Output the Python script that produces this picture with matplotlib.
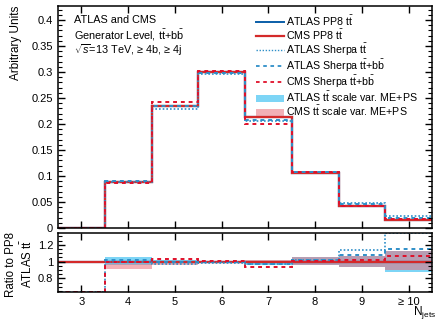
import numpy as np
import matplotlib
matplotlib.use('Agg')
from matplotlib import pyplot as plt
from matplotlib.ticker import MultipleLocator, FixedLocator
from matplotlib.lines import Line2D
from matplotlib.patches import Patch

plt.rcParams['font.family'] = ['Liberation Sans', 'DejaVu Sans']
plt.rcParams['mathtext.fontset'] = 'custom'
plt.rcParams['mathtext.rm'] = 'Liberation Sans'
plt.rcParams['mathtext.it'] = 'Liberation Sans:italic'

# bins in N_jets (3 ... >=10)
edges = np.arange(2.5, 11.0, 1.0)
tick_labels = ['3', '4', '5', '6', '7', '8', '9', '\u2265 10']

# ATLAS PP8 ttbar, normalised
atlas_pp8 = [0.0, 0.088, 0.2355, 0.301, 0.213, 0.106, 0.042, 0.0162]

# ratios to ATLAS PP8
cms_pp8_r = [1.0, 1.0, 1.0, 1.0, 1.0, 1.0, 1.0, 1.0]
atlas_sh_tt_r = [0.0, 1.0, 0.976, 0.985, 0.97, 1.02, 1.139, 1.40]
atlas_sh_ttbb_r = [0.0, 1.02, 1.0, 0.99, 0.976, 1.024, 1.08, 1.147]
cms_sh_ttbb_r = [0.0, 0.99, 1.028, 1.005, 0.94, 1.01, 1.02, 1.067]

# scale variation bands (ratio lo / hi)
atlas_band_lo = [1.0, 0.965, 0.98, 0.99, 0.96, 0.955, 0.94, 0.876]
atlas_band_hi = [1.0, 1.05, 1.02, 1.01, 0.99, 1.06, 1.067, 1.12]
cms_band_lo = [1.0, 0.91, 0.965, 0.99, 0.99, 0.964, 0.94, 0.90]
cms_band_hi = [1.0, 0.97, 1.0, 1.01, 1.025, 1.06, 1.067, 1.12]

c_atlas = '#0a5ea8'
c_cms = '#d42a2a'
c_atlas_sh = '#2f8fc8'
c_cms_sh = '#e0102a'
c_atlas_band = '#7dd5f6'
c_cms_band = '#e8707a'

pp8 = np.array(atlas_pp8)
rlo, rhi = 0.64, 1.345

fig = plt.figure(figsize=(4.37, 3.22), dpi=100)
ax = fig.add_axes([58 / 437, 94 / 322, 374 / 437, 222 / 322])
rax = fig.add_axes([58 / 437, 30 / 322, 374 / 437, 59.5 / 322])

# main panel
ax.stairs(pp8, edges, color=c_atlas, lw=1.6, baseline=None)
ax.stairs(np.array(cms_pp8_r) * pp8, edges, color=c_cms, lw=1.6, baseline=None)
ax.stairs(np.array(atlas_sh_tt_r) * pp8, edges, color=c_atlas_sh, lw=1.2,
          ls=(0, (1, 1.2)), baseline=None)
ax.stairs(np.array(atlas_sh_ttbb_r) * pp8, edges, color=c_atlas_sh, lw=1.4,
          ls=(0, (2, 2)), baseline=None)
ax.stairs(np.array(cms_sh_ttbb_r) * pp8, edges, color=c_cms_sh, lw=1.4,
          ls=(0, (2, 2)), baseline=None)

# ratio panel, values outside the range are drawn on the frame
def clip(v):
    return np.clip(np.asarray(v, dtype=float), rlo + 0.004, rhi - 0.004)

rax.stairs(atlas_band_hi, edges, baseline=atlas_band_lo, fill=True,
           color=c_atlas_band, lw=0)
rax.stairs(cms_band_hi, edges, baseline=cms_band_lo, fill=True,
           color=c_cms_band, alpha=0.55, lw=0)
rax.stairs(np.ones(len(pp8)), edges, color=c_atlas, lw=1.6, baseline=None)
rax.stairs(clip(cms_pp8_r), edges, color=c_cms, lw=1.6, baseline=None)
rax.stairs(clip(atlas_sh_tt_r), edges, color=c_atlas_sh, lw=1.2,
           ls=(0, (1, 1.2)), baseline=None)
rax.stairs(clip(atlas_sh_ttbb_r), edges, color=c_atlas_sh, lw=1.4,
           ls=(0, (2, 2)), baseline=None)
rax.stairs(clip(cms_sh_ttbb_r), edges, color=c_cms_sh, lw=1.4,
           ls=(0, (2, 2)), baseline=None)

for a in (ax, rax):
    a.set_xlim(2.5, 10.5)
    a.xaxis.set_major_locator(FixedLocator(np.arange(3, 11)))
    a.tick_params(direction='in', top=True, right=True, labelsize=8,
                  length=5, width=1)
    a.tick_params(which='minor', direction='in', top=True, right=True,
                  length=3, width=0.8)
    for sp in a.spines.values():
        sp.set_linewidth(1.1)

ax.set_ylim(0, 0.427)
ax.set_yticks([0, 0.05, 0.1, 0.15, 0.2, 0.25, 0.3, 0.35, 0.4])
ax.set_yticklabels(['0', '0.05', '0.1', '0.15', '0.2', '0.25', '0.3', '0.35', '0.4'])
ax.yaxis.set_minor_locator(MultipleLocator(0.01))
ax.set_xticklabels([])
ax.set_ylabel('Arbitrary Units', fontsize=8.5, loc='top')
ax.yaxis.set_label_coords(-0.097, 1.0)

rax.set_ylim(rlo, rhi)
rax.set_yticks([0.8, 1.0, 1.2])
rax.set_yticklabels(['0.8', '1', '1.2'])
rax.yaxis.set_minor_locator(MultipleLocator(0.05))
rax.set_xticklabels(tick_labels)
rax.set_ylabel('Ratio to PP8\nATLAS $\\mathrm{t\\bar{t}}$', fontsize=8.3,
               linespacing=1.2)
rax.yaxis.set_label_coords(-0.062, 0.47)
rax.text(1.01, -0.39, 'N$_{\\mathrm{jets}}$', transform=rax.transAxes,
         ha='right', va='baseline', fontsize=8.5)

ax.text(0.043, 0.937, 'ATLAS and CMS', transform=ax.transAxes, fontsize=7.8, va='center')
ax.text(0.043, 0.869, 'Generator Level, $\\mathrm{t\\bar{t}}$+$\\mathrm{b\\bar{b}}$',
        transform=ax.transAxes, fontsize=7.8, va='center')
ax.text(0.043, 0.801, '$\\sqrt{s}$=13 TeV, \u2265 4b, \u2265 4j',
        transform=ax.transAxes, fontsize=7.8, va='center')

handles = [
    Line2D([], [], color=c_atlas, lw=1.4),
    Line2D([], [], color=c_cms, lw=1.6),
    Line2D([], [], color=c_atlas_sh, lw=1.0, ls=(0, (1, 1.2))),
    Line2D([], [], color=c_atlas_sh, lw=1.3, ls=(0, (2, 2))),
    Line2D([], [], color=c_cms_sh, lw=1.3, ls=(0, (2, 2))),
    Patch(color=c_atlas_band, lw=0),
    Patch(color=c_cms_band, alpha=0.55, lw=0),
]
labels = [
    'ATLAS PP8 $\\mathrm{t\\bar{t}}$',
    'CMS PP8 $\\mathrm{t\\bar{t}}$',
    'ATLAS Sherpa $\\mathrm{t\\bar{t}}$',
    'ATLAS Sherpa $\\mathrm{t\\bar{t}}$+$\\mathrm{b\\bar{b}}$',
    'CMS Sherpa $\\mathrm{t\\bar{t}}$+$\\mathrm{b\\bar{b}}$',
    'ATLAS $\\mathrm{t\\bar{t}}$ scale var. ME+PS',
    'CMS $\\mathrm{t\\bar{t}}$ scale var. ME+PS',
]
ax.legend(handles, labels, loc='upper left', bbox_to_anchor=(0.51, 1.0),
          frameon=False, fontsize=7.7, handlelength=2.6, handletextpad=0.2,
          labelspacing=0.0, borderaxespad=0.3)

fig.savefig('out.png', dpi=100)
